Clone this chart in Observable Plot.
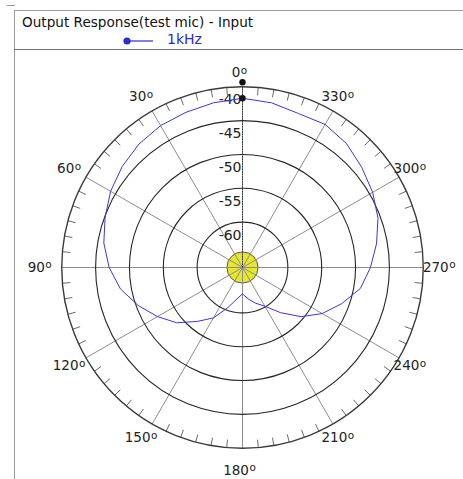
<!DOCTYPE html>
<html>
<head>
<meta charset="utf-8">
<script src="https://cdn.jsdelivr.net/npm/d3@7"></script>
<script src="https://cdn.jsdelivr.net/npm/@observablehq/plot@0.6"></script>
<style>
  html, body { margin: 0; padding: 0; background: #fff; }
  body { width: 463px; height: 479px; position: relative; overflow: hidden; font-family: "DejaVu Sans", sans-serif; }
  #frame { position: absolute; left: 14px; top: 10px; width: 449px; height: 469px; border-left: 1px solid #9a9a9a; border-top: 1px solid #9a9a9a; box-sizing: border-box; pointer-events: none; z-index: 2; }
  #corner { position: absolute; left: 7px; top: 5px; width: 8px; height: 1px; background: #9a9a9a; }
  #hline { position: absolute; left: 14px; top: 49px; width: 449px; height: 1px; background: #707070; z-index: 2; }
  #title { position: absolute; left: 22px; top: 14px; font-size: 13.6px; color: #111; white-space: nowrap; }
  #legend { position: absolute; left: 122px; top: 33px; height: 16px; font-size: 14px; color: #2b2bd0; white-space: nowrap; }
  #legend svg { position: absolute; left: 0; top: 0; }
  #legend span { position: absolute; left: 45px; top: -2px; }
  #chart { position: absolute; left: 0; top: 50px; }
</style>
</head>
<body>
<div id="corner"></div>
<div id="frame"></div>
<div id="title">Output Response(test mic) - Input</div>
<div id="legend"><svg width="40" height="16"><line x1="5" y1="8" x2="31" y2="8" stroke="#2b2bd0" stroke-width="1.2"/><circle cx="5" cy="8" r="3.6" fill="#2b2bd0"/></svg><span>1kHz</span></div>
<div id="hline"></div>
<div id="chart"></div>
<script>
// ---- data ----
const seriesName = "1kHz";
const angles = [0,10,20,30,40,50,60,70,80,90,100,110,120,130,140,150,160,170,
                180,190,200,210,220,230,240,250,260,270,280,290,300,310,320,330,340,350];
const levels = [-41.7,-42.0,-42.3,-42.5,-42.9,-43.5,-44.2,-45.1,-45.9,-47.0,-48.4,-50.3,
                -52.2,-54.0,-56.3,-58.1,-60.4,-62.0,-62.8,-62.0,-61.1,-60.1,-58.0,-55.4,
                -53.1,-51.1,-49.0,-47.8,-46.6,-45.4,-44.5,-43.7,-42.8,-42.3,-42.5,-42.0];
const ringValues = [-40, -45, -50, -55, -60];
const ringLabels = ["-40", "-45", "-50", "-55", "-60"];
const spokeAngles = [0,30,60,90,120,150,180,210,240,270,300,330];
const angleLabels = ["0","30","60","90","120","150","180","210","240","270","300","330"];
const degreeMark = "o";
const centerLevel = -64.4;   // yellow centre disk
const cursorAngle = 0;

// ---- geometry helpers ----
const base = -66.7;          // level at the pole
const K = 6.77;              // pixels per dB
const outer = ringValues[0];
const rho = v => v - base;
const rad = a => a * Math.PI / 180;
const px = (a, v) => -rho(v) * Math.sin(rad(a));
const py = (a, v) => rho(v) * Math.cos(rad(a));

const W = 463, H = 429, CX = 242, CY = 217;

const curve = angles.map((a, i) => ({a, v: levels[i]}));
curve.push(curve[0]);

const ticks = d3.range(0, 360, 5).filter(a => a % 30 !== 0);
const spokes = spokeAngles.map(a => ({a}));
const angleLab = spokeAngles.map((a, i) => ({a, t: angleLabels[i], v: outer + (a % 180 === 0 ? (a === 0 ? 14 : 22) : (a % 90 === 0 ? 19 : 16)) / K}));
const rings = ringValues.map((v, i) => ({v, t: ringLabels[i]}));
const cursorLevel = levels[angles.indexOf(cursorAngle)];
const cursorTop = outer + 4.5 / K;

const chart = Plot.plot({
  width: W, height: H, margin: 0,
  style: {background: "transparent", fontFamily: "DejaVu Sans, sans-serif"},
  x: {domain: [-CX / K, (W - CX) / K], axis: null},
  y: {domain: [-(H - CY) / K, CY / K], axis: null},
  marks: [
    // yellow centre disk
    Plot.dot([centerLevel], {x: 0, y: 0, r: rho(centerLevel) * K, fill: "#e6e62a", stroke: "#555", strokeWidth: 1}),
    // spokes
    Plot.link(spokes, {x1: 0, y1: 0, x2: d => px(d.a, outer), y2: d => py(d.a, outer), stroke: "#8e8e8e", strokeWidth: 1}),
    // outer ticks every 5 degrees
    Plot.link(ticks, {x1: a => px(a, outer), y1: a => py(a, outer), x2: a => px(a, outer - 8 / K), y2: a => py(a, outer - 8 / K), stroke: "#6a6a6a", strokeWidth: 1}),
    // rings
    ...rings.map((d, i) => Plot.dot([d], {x: 0, y: 0, r: rho(d.v) * K, fill: "none", stroke: i === 0 ? "#3a3a3a" : "#262626", strokeWidth: i === 0 ? 1.4 : 1.1})),
    // cursor line
    Plot.link([cursorAngle], {x1: 0, y1: 0, x2: a => px(a, cursorTop), y2: a => py(a, cursorTop), stroke: "#333", strokeWidth: 1, strokeDasharray: "1.5,1"}),
    // ring labels
    Plot.text(rings, {x: 0, y: d => rho(d.v), text: "t", textAnchor: "end", dx: -1, dy: 13, fontSize: 14, fill: "#222"}),
    // response curve
    Plot.line(curve, {x: d => px(d.a, d.v), y: d => py(d.a, d.v), stroke: "#3838d8", strokeWidth: 1, curve: "linear"}),
    // cursor markers
    Plot.dot([cursorAngle], {x: a => px(a, cursorTop), y: a => py(a, cursorTop), r: 3.2, fill: "#111"}),
    Plot.dot([cursorAngle], {x: a => px(a, cursorLevel), y: a => py(a, cursorLevel), r: 3.2, fill: "#111"}),
    // angle labels
    Plot.text(angleLab, {x: d => px(d.a, d.v), y: d => py(d.a, d.v), text: "t", fontSize: 13.5, fill: "#222", dx: -3})
  ]
});
// add the raised "o" degree mark to each angle label
const angleSet = new Set(angleLabels);
Array.from(chart.querySelectorAll("text")).forEach(t => {
  if (!angleSet.has(t.textContent)) return;
  const ts = document.createElementNS("http://www.w3.org/2000/svg", "tspan");
  ts.setAttribute("font-size", "10.5");
  ts.setAttribute("dy", "-3.5");
  ts.setAttribute("dx", "0.5");
  ts.textContent = degreeMark;
  t.appendChild(ts);
});
document.getElementById("chart").appendChild(chart);
</script>
</body>
</html>
